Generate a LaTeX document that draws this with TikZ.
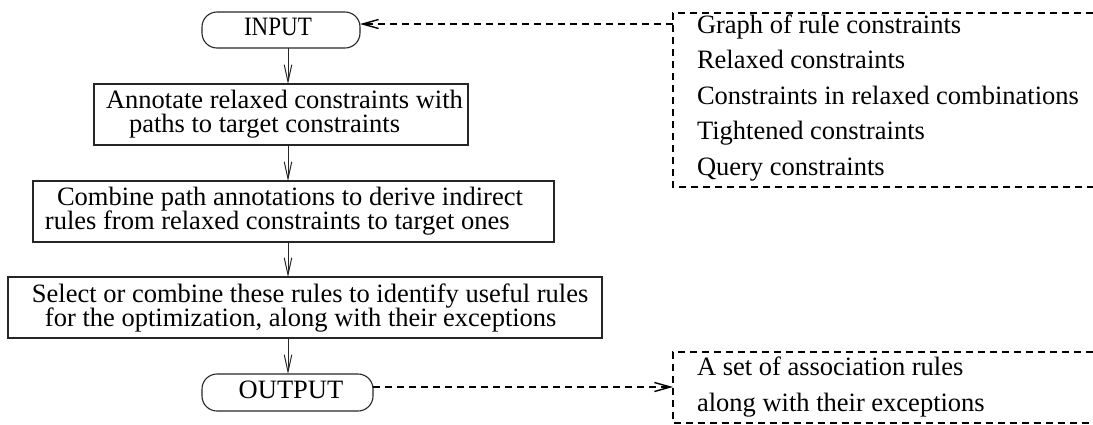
\documentclass[tikz,border=0pt]{standalone}
\usepackage{fontspec}
\setmainfont{Liberation Serif}
\usetikzlibrary{arrows.meta}
\begin{document}
\begin{tikzpicture}[x=0.5pt,y=-0.5pt,
  every node/.style={inner sep=0pt,outer sep=0pt,font=\fontsize{13.25}{16}\selectfont},
  box/.style={draw=black!85,line width=0.55pt,rectangle},
  term/.style={draw=black!85,line width=0.55pt,rectangle,rounded corners=7.5pt},
  txt/.style={anchor=base west},
  ctxt/.style={anchor=base},
  flow/.style={draw=black!85,line width=0.5pt,-{Straight Barb[length=8.5pt,width=3.8pt]}},
  dflow/.style={line width=0.7pt,dash pattern=on 3.5pt off 2.5pt,-{Straight Barb[length=8pt,width=4.5pt]}},
  dbox/.style={line width=0.7pt,dash pattern=on 3.5pt off 2.5pt}]
\useasboundingbox (0,0) rectangle (1093,424);
\coordinate (axis) at (288,0);
% flow boxes
\node[term,minimum width=79pt,minimum height=18pt] (in) at (281,30) {};
\node[ctxt] (intxt) at (278,35) {\scalebox{0.87}[1]{INPUT}};
\node[box,minimum width=187pt,minimum height=30.5pt] (b1) at (281,114.5) {};
\node[txt] (b1a) at (106,108) {Annotate relaxed constraints with};
\node[txt] (b1b) at (129,132) {paths to target constraints};
\node[box,minimum width=260.5pt,minimum height=30.5pt] (b2) at (293.5,211.5) {};
\node[txt] (b2a) at (57,205) {Combine path annotations to derive indirect};
\node[txt] (b2b) at (45,229) {rules from relaxed constraints to target ones};
\node[box,minimum width=297pt,minimum height=30.5pt] (b3) at (305,307.5) {};
\node[txt] (b3a) at (32,302) {Select or combine these rules to identify useful rules};
\node[txt] (b3b) at (45,326) {for the optimization, along with their exceptions};
\node[term,minimum width=85.5pt,minimum height=18.5pt] (out) at (287.5,392.5) {};
\node[ctxt] (outtxt) at (291,398) {OUTPUT};
% flow arrows
\draw[flow] (in.south -| axis) -- (b1.north -| axis);
\draw[flow] (b1.south -| axis) -- (b2.north -| axis);
\draw[flow] (b2.south -| axis) -- (b3.north -| axis);
\draw[flow] (b3.south -| axis) -- (out.north -| axis);
% right dashed boxes (open to the right)
\coordinate (r1tl) at (673,13);
\coordinate (r1bl) at (673,187);
\draw[dbox] (1093,13) -- (r1tl) -- (r1bl) -- (1093,187);
\node[txt] (i1) at (697,33) {Graph of rule constraints};
\node[txt] (i2) at (697,68.5) {Relaxed constraints};
\node[txt] (i3) at (697,104) {Constraints in relaxed combinations};
\node[txt] (i4) at (697,139.5) {Tightened constraints};
\node[txt] (i5) at (697,175) {Query constraints};
\coordinate (r2tl) at (673,352);
\coordinate (r2bl) at (673,423);
\draw[dbox] (1093,352) -- (r2tl) -- (r2bl) -- (1093,423);
\node[txt] (o1) at (697,375) {A set of association rules};
\node[txt] (o2) at (697,411) {along with their exceptions};
% dashed connectors
\coordinate (inport) at (673,24);
\coordinate (outport) at (673,387);
\draw[dflow] (inport) -- (inport -| in.east);
\draw[dflow] (out.east |- outport) -- (outport);
\end{tikzpicture}
\end{document}
